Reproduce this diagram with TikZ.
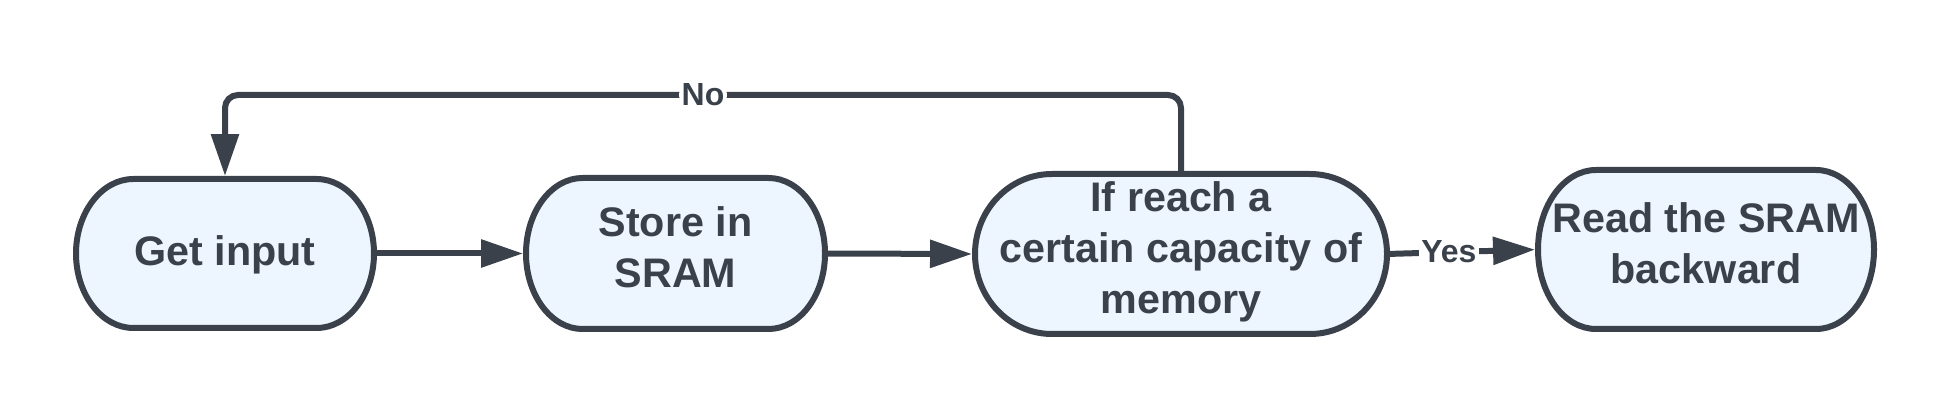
\documentclass[tikz,border=0pt]{standalone}
\usepackage{fontspec}
\setmainfont{Liberation Sans}
\usepackage{xcolor}
\usepackage{tikz}
\usetikzlibrary{arrows.meta,calc,backgrounds}

\definecolor{lineslate}{HTML}{3A414A}
\definecolor{boxfill}{HTML}{EDF5FF}

\begin{document}
\begin{tikzpicture}[>={Triangle[length=0.84cm,width=0.54cm]},
    line width=0.12cm,color=lineslate,
    stepbox/.style={inner sep=0pt,outer sep=0pt,align=center,
      font=\fontsize{23.5}{29}\selectfont\bfseries,
      execute at begin node=\rule{0pt}{21.5pt},execute at end node=\rule[-7.5pt]{0pt}{7.5pt}},
    boxline/.style={line width=0.12cm,draw=lineslate,fill=boxfill},
    flow/.style={->,shorten >=1.7pt},
    lbl/.style={fill=white,inner sep=1.5pt,font=\fontsize{18.2}{20}\selectfont\bfseries}]
  \useasboundingbox (0,0) rectangle (39,-8.18);

  \node[stepbox,minimum width=5.96cm,minimum height=2.98cm] (get) at (4.50,-5.07) {Get input};
  \node[stepbox,minimum width=5.98cm,minimum height=3.02cm] (store) at (13.51,-5.07) {Store in\\SRAM};
  \node[stepbox,minimum width=8.24cm,minimum height=3.20cm] (ifcap) at (23.62,-5.08) {If reach a\\certain capacity of\\memory};
  \node[stepbox,minimum width=6.72cm,minimum height=3.18cm,
    execute at begin node=\rule{0pt}{26pt}] (read) at (34.12,-4.99) {Read the SRAM\\backward};

  \begin{scope}[on background layer]
    \foreach \b/\r in {get/1.15cm,store/1.13cm,ifcap/1.54cm,read/1.16cm}
      \draw[boxline] let \p1=(\b.south west), \p2=(\b.north east) in
        (\x1+\r,\y1) -- (\x2-\r,\y1)
        arc[start angle=-90,end angle=90,x radius=\r,y radius={(\y2-\y1)/2}]
        -- (\x1+\r,\y2)
        arc[start angle=90,end angle=270,x radius=\r,y radius={(\y2-\y1)/2}]
        -- cycle;
  \end{scope}

  \coordinate (noline) at (0,-1.90);
  \draw[flow] (get.east) -- (store.west);
  \draw[flow] (store.east) -- (ifcap.west);
  \draw[flow] (ifcap.east) -- node[lbl,pos=0.41] {Yes} (read.west);
  \draw[flow,rounded corners=0.26cm] (ifcap.north) -- (ifcap.north |- noline)
    -- node[lbl] {No} (get.north |- noline) -- (get.north);
\end{tikzpicture}
\end{document}
